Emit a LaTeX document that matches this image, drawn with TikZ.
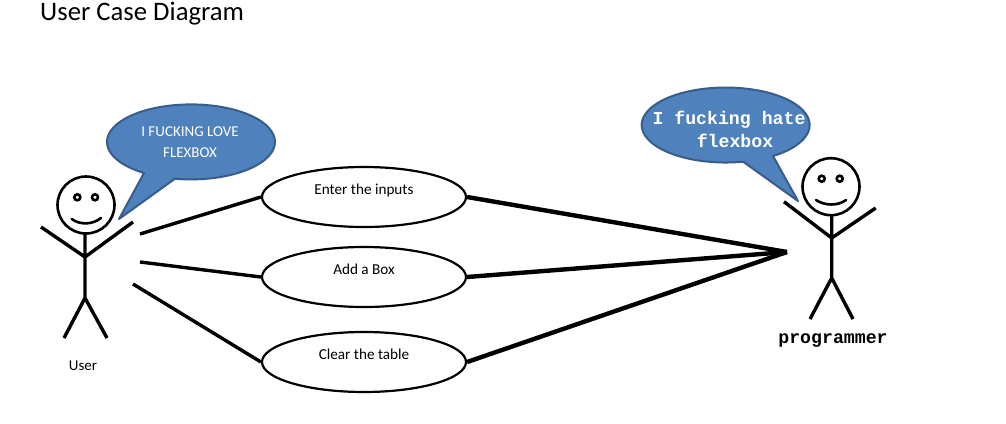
\documentclass[tikz,border=0pt]{standalone}
\usepackage{fontspec}
\setmainfont{Carlito}
\newfontfamily\monof{Liberation Mono}
\usetikzlibrary{shapes.geometric}
\definecolor{bubblefill}{HTML}{4F81BD}
\definecolor{bubbleedge}{HTML}{385D8A}
\tikzset{
  usecase/.style={ellipse,draw=black,line width=2.2pt,fill=white,minimum width=204pt,minimum height=60pt,inner sep=0pt,font=\fontsize{15.2}{17}\selectfont},
  link/.style={line width=3.4pt,black},
  linkb/.style={line width=4.4pt,black},
  stick/.style={line width=3.4pt,black},
  face/.style={line width=2.6pt,black},
  bubble/.style={fill=bubblefill,draw=bubbleedge,line width=2pt,line join=round},
  caption/.style={inner sep=0pt,align=center,black},
}
\begin{document}
\begin{tikzpicture}[x=1pt,y=-1pt]
\useasboundingbox (0,0) rectangle (1006,423);
\fill[white] (0,0) rectangle (1006,423);
\node[caption,anchor=west,font=\fontsize{26.7}{30}\selectfont] (title) at (40,14) {User Case Diagram};
% use cases
\node[usecase] (uc1) at (364,197) {\raisebox{16pt}{Enter the inputs}};
\node[usecase] (uc2) at (364,277) {\raisebox{16pt}{Add a Box}};
\node[usecase] (uc3) at (364,362) {\raisebox{16pt}{Clear the table}};
% connector ends
\coordinate (u1) at (140,234);
\coordinate (u2) at (140,262);
\coordinate (u3) at (133,284);
\coordinate (hub) at (787,252);
\draw[link] (u1) -- (uc1.west);
\draw[link] (u2) -- (uc2.west);
\draw[link] (u3) -- (uc3.west);
\draw[linkb] (uc1.east) -- (hub);
\draw[linkb] (uc2.east) -- (hub);
\draw[linkb] (uc3.east) -- (hub);
% left bubble
\draw[bubble] (144,173) arc[start angle=-124,delta angle=-337,x radius=84pt,y radius=37.5pt] -- (119,219) -- cycle;
\node[caption,white,font=\fontsize{15}{21}\selectfont] (lovetext) at (190,142.5) {I FUCKING LOVE\\FLEXBOX};
% right bubble
\draw[bubble] (773,156) arc[start angle=-55.7,delta angle=337.7,x radius=84pt,y radius=37.5pt] -- (798,201) -- cycle;
\node[caption,white,font=\monof\bfseries\fontsize{18.2}{23}\selectfont] (hatetext) at (729,129.5) {I fucking hate\\\hspace{12pt}flexbox};
% left figure
\draw[stick,fill=white,line width=2.6pt] (86,205) circle[radius=28.5pt];
\draw[face] (77.3,197.3) circle[radius=3pt] (95,197.3) circle[radius=3pt];
\draw[face,line cap=round] (71.7,219) .. controls (80,225) and (92,225) .. (101,218);
\draw[stick] (85,234) -- (85,298) (41,227) -- (85,257) -- (133,222) (64,338) -- (85,298) -- (107,338);
\node[caption,font=\fontsize{15}{17}\selectfont] (user) at (83,366) {User};
% right figure
\draw[stick,fill=white,line width=2.6pt] (831,186.7) circle[radius=28.5pt];
\draw[face] (821.7,178.7) circle[radius=3pt] (839.7,178.7) circle[radius=3pt];
\draw[face,line cap=round] (816,200) .. controls (825,206) and (838,206) .. (846,200);
\draw[stick] (831.7,215) -- (831.7,278) (784,201.7) -- (831.7,238) -- (875.7,208) (810,319) -- (831.7,278) -- (853,319);
\node[caption,font=\monof\bfseries\fontsize{18.2}{20}\selectfont] (prog) at (833,341) {programmer};
\end{tikzpicture}
\end{document}
